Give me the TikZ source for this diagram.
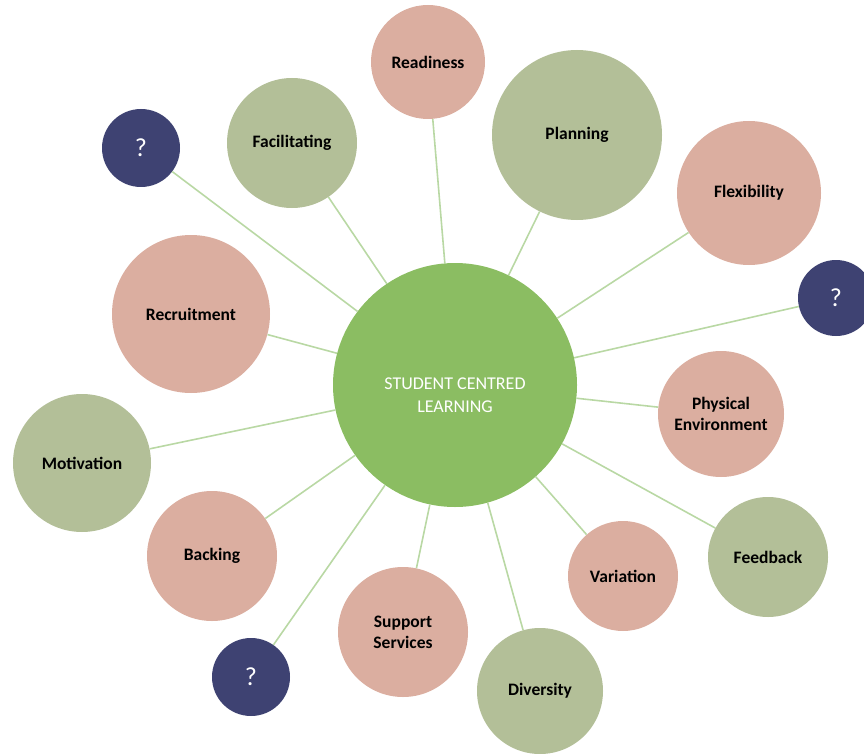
\documentclass[tikz,border=0pt]{standalone}
\usepackage{fontspec}
\setmainfont{Carlito}
\definecolor{pinkc}{RGB}{219,174,160}
\definecolor{sagec}{RGB}{179,191,152}
\definecolor{navyc}{RGB}{62,66,114}
\definecolor{hubc}{RGB}{139,189,98}
\definecolor{linkc}{RGB}{185,216,164}
\begin{document}
\begin{tikzpicture}[x=1pt,y=-1pt,
  bubble/.style={circle,inner sep=0pt,align=center,text=black,
    font=\fontsize{17.5}{21}\selectfont\bfseries},
  pinkb/.style={bubble,fill=pinkc},
  sageb/.style={bubble,fill=sagec},
  qb/.style={circle,inner sep=0pt,fill=navyc,text=white,minimum size=78pt,
    font=\fontsize{26}{26}\selectfont},
  hub/.style={circle,inner sep=0pt,fill=hubc,minimum size=244pt},
  link/.style={draw=linkc,line width=1.6pt}]
\useasboundingbox (0,0) rectangle (864,754);
\clip (0,0) rectangle (864,754);
% hub
\node[hub] (c) at (455,385) {};
\node[text=white,align=center,font=\fontsize{18}{23}\selectfont] (ct) at (455,395) {STUDENT CENTRED\\LEARNING};
% satellites
\node[pinkb,minimum size=114pt] (read) at (428,62) {Readiness};
\node[sageb,minimum size=170pt] (plan) at (577,135) {Planning};
\node[sageb,minimum size=130pt] (faci) at (292,143) {Facilitating};
\node[qb] (q1) at (141,148) {?};
\node[pinkb,minimum size=144pt] (flex) at (749,193) {Flexibility};
\node[qb,minimum size=76pt] (q2) at (836,298) {?};
\node[pinkb,minimum size=158pt] (recr) at (191,314) {Recruitment};
\node[pinkb,minimum size=126pt] (phys) at (721,414) {Physical\\Environment};
\node[sageb,minimum size=138pt] (moti) at (82,463) {Motivation};
\node[sageb,minimum size=120pt] (feed) at (768,557) {Feedback};
\node[pinkb,minimum size=130pt] (back) at (212,556) {Backing};
\node[pinkb,minimum size=110pt] (vari) at (623,576) {Variation};
\node[pinkb,minimum size=130pt] (supp) at (403,632) {Support\\Services};
\node[qb] (q3) at (251,677) {?};
\node[sageb,minimum size=126pt] (dive) at (540,691) {Diversity};
% connectors
\foreach \n in {read,plan,faci,q1,flex,q2,recr,phys,moti,feed,back,vari,supp,q3,dive}
  \draw[link] (c) -- (\n);
\end{tikzpicture}
\end{document}
